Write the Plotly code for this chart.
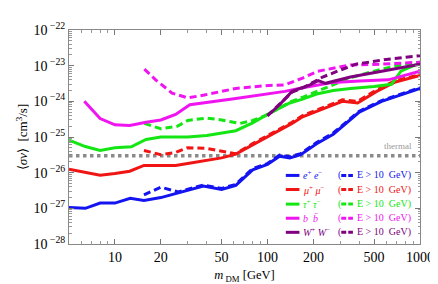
import plotly.graph_objects as go

# ---------------- data ----------------
ee_m = [5, 6.4, 8, 10, 12.6, 15.5, 20, 26, 38, 50, 62, 80, 100, 120, 140, 165, 210, 270, 350, 400, 560, 1000]
ee_v = [1.05e-27, 1.0e-27, 1.4e-27, 1.4e-27, 1.9e-27, 1.65e-27, 2.0e-27, 2.7e-27, 4.2e-27, 3.4e-27, 4.4e-27,
        1.2e-26, 1.7e-26, 2.9e-26, 2.6e-26, 3.2e-26, 6.5e-26, 1.2e-25, 3.0e-25, 5.0e-25, 1.0e-24, 2.3e-24]
ee10_m = [15.5, 20, 26, 38, 50, 62, 80, 100, 120, 140, 165, 210, 270, 350, 400, 560, 1000]
ee10_v = [2.4e-27, 3.9e-27, 2.9e-27, 4.5e-27, 3.6e-27, 4.7e-27, 1.3e-26, 1.8e-26, 3.1e-26, 2.8e-26, 3.4e-26,
          7e-26, 1.3e-25, 3.2e-25, 5.3e-25, 1.05e-24, 2.4e-24]

mm_m = [5, 6.5, 8, 10, 12.5, 15.5, 20, 25, 30, 40, 50, 62, 80, 100, 120, 145, 170, 220, 270, 310, 390, 520, 690, 1000]
mm_v = [1.25e-26, 1.0e-26, 8.5e-27, 9.5e-27, 1.1e-26, 1.6e-26, 1.6e-26, 1.6e-26, 1.8e-26, 2.2e-26, 2.6e-26,
        3.3e-26, 6e-26, 1.0e-25, 1.6e-25, 2.4e-25, 3.7e-25, 5.8e-25, 8e-25, 1.0e-24, 9e-25, 1.9e-24, 3.5e-24, 5.3e-24]
mm10_m = [15.5, 20, 25, 30, 40, 50, 62, 80, 100, 120, 145, 170, 220, 270, 310, 390, 520, 690, 1000]
mm10_v = [4.2e-26, 3.2e-26, 3.7e-26, 5e-26, 4.8e-26, 4.0e-26, 3.4e-26, 6.5e-26, 1.1e-25, 1.75e-25, 2.6e-25,
          4e-25, 6.3e-25, 8.8e-25, 1.1e-24, 1.0e-24, 2.1e-24, 3.8e-24, 5.6e-24]

tt_m = [5, 6.4, 8, 10, 12.8, 16, 20, 30, 40, 62, 80, 100, 140, 170, 210, 270, 350, 500, 650, 750, 1000]
tt_v = [8.2e-26, 5.4e-26, 4.2e-26, 5.0e-26, 5.3e-26, 8.5e-26, 1.0e-25, 1.0e-25, 1.1e-25, 1.5e-25, 2.5e-25,
        4.3e-25, 9e-25, 1.15e-24, 1.6e-24, 2.0e-24, 2.3e-24, 2.6e-24, 3.0e-24, 7e-24, 1.2e-23]
tt10_m = [15.6, 20, 25.6, 30, 40, 50, 66, 80, 97, 120, 144, 170, 210, 270, 350, 500, 700, 1000]
tt10_v = [2.4e-25, 1.7e-25, 2.0e-25, 2.9e-25, 3.4e-25, 3.0e-25, 2.4e-25, 2.9e-25, 4.0e-25, 6.5e-25, 1.0e-24,
          1.3e-24, 1.9e-24, 3.0e-24, 4.6e-24, 7e-24, 1.0e-23, 1.25e-23]

bb_m = [6.3, 8, 10, 12.5, 16, 20, 25, 31, 62, 130, 170, 270, 400, 620, 1000]
bb_v = [1.0e-24, 3.3e-25, 2.2e-25, 2.1e-25, 2.6e-25, 3.0e-25, 4.3e-25, 8e-25, 1.2e-24, 1.9e-24, 2.4e-24,
        3.4e-24, 3.7e-24, 4.0e-24, 7e-24]
bb10_m = [15.6, 18.5, 23.7, 30, 38.5, 62, 103, 130, 170, 214, 350, 560, 1000]
bb10_v = [8e-24, 4e-24, 1.7e-24, 1.25e-24, 1.5e-24, 2.3e-24, 2.8e-24, 2.9e-24, 4.5e-24, 7e-24, 1.05e-23,
          1.1e-23, 1.25e-23]

ww_m = [100, 120, 145, 190, 215, 240, 350, 600, 1000]
ww_v = [3.9e-25, 8e-25, 1.9e-24, 2.9e-24, 3.8e-24, 3.2e-24, 4.8e-24, 7.5e-24, 1.1e-23]
ww10_m = [100, 120, 145, 175, 230, 300, 380, 600, 1000]
ww10_v = [4e-25, 8.5e-25, 1.8e-24, 2.5e-24, 4.8e-24, 7.5e-24, 1.1e-23, 1.5e-23, 1.9e-23]

thermal_m = [5, 1000]
thermal_v = [3e-26, 3e-26]

x_ticks = [10, 20, 50, 100, 200, 500, 1000]
x_ticklabels = ["10", "20", "50", "100", "200", "500", "1000"]
y_exps = [-28, -27, -26, -25, -24, -23, -22]

channels = ["<i>e</i><sup>+</sup> <i>e</i><sup>−</sup>",
            "<i>μ</i><sup>+</sup> <i>μ</i><sup>−</sup>",
            "<i>τ</i><sup>+</sup> <i>τ</i><sup>−</sup>",
            "<i>b</i>  <i>b̄</i>",
            "<i>W</i><sup>+</sup> <i>W</i><sup>−</sup>"]
cut_label = "E > 10  GeV)"

colors = ["#1414f0", "#f01414", "#14e614", "#f014f0", "#800080"]

series = [(ee_m, ee_v, ee10_m, ee10_v), (mm_m, mm_v, mm10_m, mm10_v), (tt_m, tt_v, tt10_m, tt10_v),
          (bb_m, bb_v, bb10_m, bb10_v), (ww_m, ww_v, ww10_m, ww10_v)]

# ---------------- figure ----------------
fig = go.Figure()
fig.add_trace(go.Scatter(x=thermal_m, y=thermal_v, mode="lines",
                         line=dict(color="#8a8a8a", width=3.5, dash="dot"), showlegend=False))

for (m, v, m10, v10), c in zip(series, colors):
    fig.add_trace(go.Scatter(x=m10, y=v10, mode="lines",
                             line=dict(color=c, width=3, dash="7px,4px"), showlegend=False))
    fig.add_trace(go.Scatter(x=m, y=v, mode="lines",
                             line=dict(color=c, width=3), showlegend=False))

serif = "Liberation Serif"
L, R, T, B = 61, 422, 20, 240
W_, H_ = 438, 284

def px(x):
    return (x - L) / (R - L)

def py(y):
    return (B - y) / (B - T)

shapes = []
annotations = []
row_y = [169.5, 184, 199, 213.5, 228]
for i, (lab, c) in enumerate(zip(channels, colors)):
    yy = py(row_y[i])
    shapes.append(dict(type="line", xref="paper", yref="paper", x0=px(284), x1=px(298), y0=yy, y1=yy,
                       line=dict(color=c, width=3)))
    shapes.append(dict(type="line", xref="paper", yref="paper", x0=px(341), x1=px(353), y0=yy, y1=yy,
                       line=dict(color=c, width=3, dash="5px,2px")))
    annotations.append(dict(xref="paper", yref="paper", x=px(300), y=yy, xanchor="left", yanchor="middle",
                            text=lab, showarrow=False, font=dict(family=serif, size=10, color=c)))
    annotations.append(dict(xref="paper", yref="paper", x=px(336), y=yy, xanchor="left", yanchor="middle",
                            text="(", showarrow=False, font=dict(family=serif, size=10, color=c)))
    annotations.append(dict(xref="paper", yref="paper", x=px(355), y=yy, xanchor="left", yanchor="middle",
                            text=cut_label, showarrow=False, font=dict(family=serif, size=10, color=c)))

annotations.append(dict(xref="paper", yref="paper", x=px(416), y=py(146), xanchor="right", yanchor="bottom",
                        text="thermal", showarrow=False, font=dict(family=serif, size=9, color="#999999")))

minor_x = [v * d for d in [1, 10, 100] for v in range(1, 10) if 5 <= v * d <= 1000]
minor_y = [k * 10.0 ** e for e in range(-28, -22) for k in range(1, 10)]

fig.update_layout(
    width=W_, height=H_,
    margin=dict(l=L, r=W_ - R, t=T, b=H_ - B),
    paper_bgcolor="white", plot_bgcolor="white",
    font=dict(family=serif, size=14, color="black"),
    shapes=shapes, annotations=annotations,
    showlegend=False,
)
fig.update_xaxes(
    type="log", range=[0.699, 3.0],
    tickvals=x_ticks, ticktext=x_ticklabels,
    ticks="inside", ticklen=5, tickcolor="#777", tickfont=dict(family=serif, size=14),
    minor=dict(tickvals=minor_x, ticks="inside", ticklen=3, tickcolor="#999", showgrid=False),
    showline=True, linecolor="#888", linewidth=1, mirror="allticks",
    showgrid=False, zeroline=False,
    title=dict(text="<i>m</i><sub> DM</sub> [GeV]", font=dict(family=serif, size=12.5), standoff=6),
)
fig.update_yaxes(
    type="log", range=[-28, -22],
    tickvals=[10.0 ** e for e in y_exps],
    ticktext=["10<sup> −%d</sup>" % (-e) for e in y_exps],
    ticks="inside", ticklen=5, tickcolor="#777", tickfont=dict(family=serif, size=14),
    minor=dict(tickvals=minor_y, ticks="inside", ticklen=2.5, tickcolor="#999", showgrid=False),
    showline=True, linecolor="#888", linewidth=1, mirror="allticks",
    showgrid=False, zeroline=False,
    title=dict(text="⟨<i>σv</i>⟩  [cm<sup>3</sup>/s]", font=dict(family=serif, size=13), standoff=2),
)

fig.write_html("out.html")
